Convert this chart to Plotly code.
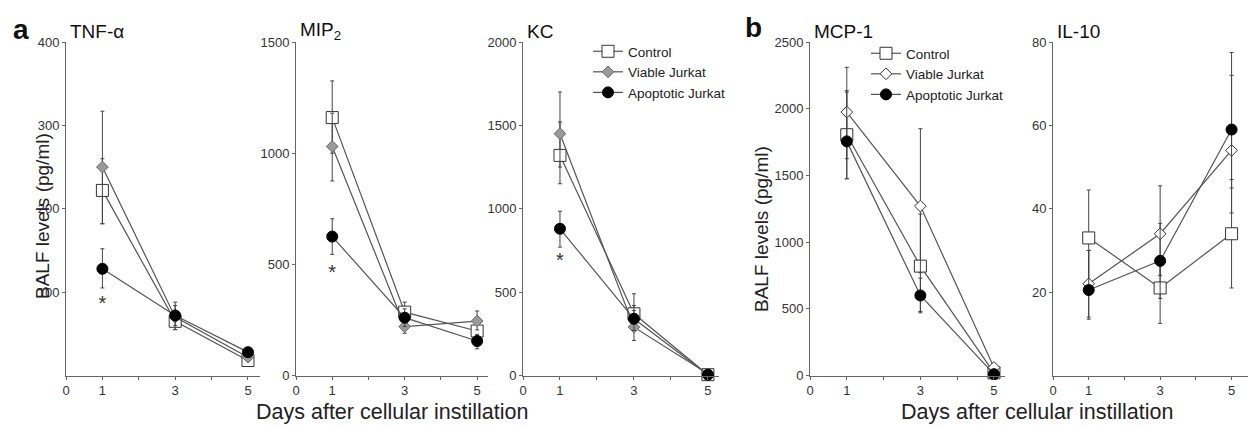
import plotly.graph_objects as go

# page has an 8px body margin, so the figure is shifted and positions compensated
OFF = 8
W, H = 1256 - 2 * OFF, 427 - OFF


def px(x):
    return (x - OFF) / W


def py(y):
    return (H - (y - OFF)) / H


days = [1, 3, 5]
series_names = ["Control", "Viable Jurkat", "Apoptotic Jurkat"]

# panel a
tnf_control = [222, 65, 18]
tnf_control_up = [38, 10, 4]
tnf_control_dn = [40, 10, 4]
tnf_viable = [250, 70, 22]
tnf_viable_up = [67, 18, 5]
tnf_viable_dn = [68, 15, 5]
tnf_apopt = [128, 72, 28]
tnf_apopt_up = [24, 12, 4]
tnf_apopt_dn = [23, 12, 4]

mip_control = [1160, 285, 200]
mip_control_up = [165, 45, 60]
mip_control_dn = [160, 40, 50]
mip_viable = [1030, 220, 245]
mip_viable_up = [150, 30, 45]
mip_viable_dn = [155, 30, 40]
mip_apopt = [625, 260, 155]
mip_apopt_up = [80, 40, 30]
mip_apopt_dn = [80, 40, 35]

kc_control = [1320, 370, 5]
kc_control_up = [200, 120, 5]
kc_control_dn = [170, 90, 5]
kc_viable = [1450, 290, 10]
kc_viable_up = [250, 100, 5]
kc_viable_dn = [200, 80, 5]
kc_apopt = [880, 340, 5]
kc_apopt_up = [105, 80, 5]
kc_apopt_dn = [110, 70, 5]

# panel b
mcp_control = [1805, 820, 20]
mcp_control_up = [330, 390, 30]
mcp_control_dn = [330, 340, 20]
mcp_viable = [1975, 1270, 60]
mcp_viable_up = [335, 580, 30]
mcp_viable_dn = [350, 500, 30]
mcp_apopt = [1755, 600, 10]
mcp_apopt_up = [370, 130, 20]
mcp_apopt_dn = [280, 130, 10]

il_control = [33, 21, 34]
il_control_up = [11.5, 6, 13]
il_control_dn = [12, 8.5, 13]
il_viable = [22, 34, 54]
il_viable_up = [8, 11.5, 18]
il_viable_dn = [8, 10, 15]
il_apopt = [20.5, 27.5, 59]
il_apopt_up = [9.5, 9, 18.5]
il_apopt_dn = [7, 9, 14]

# significance markers (day 1)
star_tnf = 85
star_mip = 457
star_kc = 680

panels = [
    dict(title="TNF-α", ymax=400, ticks=[100, 200, 300, 400], x0=66, x1=260, xmax=5.33,
         data=[(tnf_control, tnf_control_up, tnf_control_dn),
               (tnf_viable, tnf_viable_up, tnf_viable_dn),
               (tnf_apopt, tnf_apopt_up, tnf_apopt_dn)],
         star=star_tnf, legend="legend", gray=True),
    dict(title="MIP<sub>2</sub>", ymax=1500, ticks=[0, 500, 1000, 1500], x0=296, x1=488, xmax=5.3,
         data=[(mip_control, mip_control_up, mip_control_dn),
               (mip_viable, mip_viable_up, mip_viable_dn),
               (mip_apopt, mip_apopt_up, mip_apopt_dn)],
         star=star_mip, legend="legend", gray=True),
    dict(title="KC", ymax=2000, ticks=[0, 500, 1000, 1500, 2000], x0=523, x1=719, xmax=5.3,
         data=[(kc_control, kc_control_up, kc_control_dn),
               (kc_viable, kc_viable_up, kc_viable_dn),
               (kc_apopt, kc_apopt_up, kc_apopt_dn)],
         star=star_kc, legend="legend", gray=True),
    dict(title="MCP-1", ymax=2500, ticks=[0, 500, 1000, 1500, 2000, 2500], x0=810, x1=1005, xmax=5.3,
         data=[(mcp_control, mcp_control_up, mcp_control_dn),
               (mcp_viable, mcp_viable_up, mcp_viable_dn),
               (mcp_apopt, mcp_apopt_up, mcp_apopt_dn)],
         star=None, legend="legend2", gray=False),
    dict(title="IL-10", ymax=80, ticks=[20, 40, 60, 80], x0=1053, x1=1254, xmax=5.46,
         data=[(il_control, il_control_up, il_control_dn),
               (il_viable, il_viable_up, il_viable_dn),
               (il_apopt, il_apopt_up, il_apopt_dn)],
         star=None, legend="legend2", gray=False),
]

font = "Liberation Sans, Arial, sans-serif"
line_col = "#555555"
ybot, ytop = 375.5, 42

fig = go.Figure()
layout = dict(width=W, height=H, autosize=False, margin=dict(l=0, r=0, t=0, b=0, pad=0),
              paper_bgcolor="white", plot_bgcolor="white",
              font=dict(family=font, color="#222"))

annotations = []

for i, p in enumerate(panels):
    n = "" if i == 0 else str(i + 1)
    xa, ya = "x" + n, "y" + n
    layout["xaxis" + n] = dict(
        domain=[px(p["x0"]), min(px(p["x1"]), 1)], range=[0, p["xmax"]], anchor=ya,
        automargin=False,
        showline=True, linecolor="#666", linewidth=1, showgrid=False, zeroline=False,
        tickvals=[0, 1, 2, 3, 4, 5], ticktext=["0", "1", "", "3", "", "5"],
        ticks="outside", ticklen=3, tickcolor="#666",
        tickfont=dict(size=13, color="#333"))
    layout["yaxis" + n] = dict(
        domain=[py(ybot), py(ytop)], range=[0, p["ymax"]], anchor=xa,
        automargin=False,
        showline=True, linecolor="#666", linewidth=1, showgrid=False, zeroline=False,
        tickvals=p["ticks"], ticks="outside", ticklen=3, tickcolor="#666",
        tickfont=dict(size=13, color="#333"))

    viable_marker = dict(symbol="diamond", size=9,
                         color="#9a9a9a" if p["gray"] else "white",
                         line=dict(color="#666" if p["gray"] else "#333", width=1))
    markers = [
        dict(symbol="square", size=12, color="white", line=dict(color="#333", width=1)),
        viable_marker,
        dict(symbol="circle", size=11, color="black", line=dict(color="black", width=1)),
    ]
    for k, (vals, up, dn) in enumerate(p["data"]):
        fig.add_trace(go.Scatter(
            x=days, y=vals, mode="lines+markers", name=series_names[k],
            xaxis=xa, yaxis=ya, cliponaxis=False,
            line=dict(color=line_col, width=1.2), marker=markers[k],
            error_y=dict(type="data", array=up, arrayminus=dn, color="#444",
                         thickness=1, width=2),
            legend=p["legend"], showlegend=(i in (0, 3))))
    if p["star"] is not None:
        fig.add_trace(go.Scatter(
            x=[1], y=[p["star"]], mode="text", text=["*"], xaxis=xa, yaxis=ya,
            textfont=dict(size=20, color="#333"), showlegend=False, hoverinfo="skip"))

    annotations.append(dict(text=p["title"], x=px(p["x0"] + 2), y=py(31),
                            xref="paper", yref="paper", xanchor="left", yanchor="middle",
                            showarrow=False, font=dict(size=19, color="#111")))

# panel letters
annotations.append(dict(text="<b>a</b>", x=px(11), y=py(30), xref="paper", yref="paper",
                        xanchor="left", yanchor="middle", showarrow=False,
                        font=dict(size=28, color="#111")))
annotations.append(dict(text="<b>b</b>", x=px(743), y=py(28), xref="paper", yref="paper",
                        xanchor="left", yanchor="middle", showarrow=False,
                        font=dict(size=28, color="#111")))

# axis titles
for xc, yc in [(42, 216), (762, 229)]:
    annotations.append(dict(text="BALF levels (pg/ml)", x=px(xc), y=py(yc),
                            xref="paper", yref="paper", xanchor="center", yanchor="middle",
                            textangle=-90, showarrow=False,
                            font=dict(size=19, color="#222")))
for xc in [392, 1037]:
    annotations.append(dict(text="Days after cellular instillation", x=px(xc), y=py(412),
                            xref="paper", yref="paper", xanchor="center", yanchor="middle",
                            showarrow=False, font=dict(size=21.5, color="#222")))

layout["annotations"] = annotations
layout["legend"] = dict(x=px(588), y=py(36), xanchor="left", yanchor="top",
                        bgcolor="rgba(0,0,0,0)", font=dict(size=13.5, color="#222"),
                        tracegroupgap=0, itemwidth=30)
layout["legend2"] = dict(x=px(866), y=py(38), xanchor="left", yanchor="top",
                         bgcolor="rgba(0,0,0,0)", font=dict(size=13.5, color="#222"),
                         tracegroupgap=0, itemwidth=30)
fig.update_layout(**layout)

fig.write_html("out.html")
